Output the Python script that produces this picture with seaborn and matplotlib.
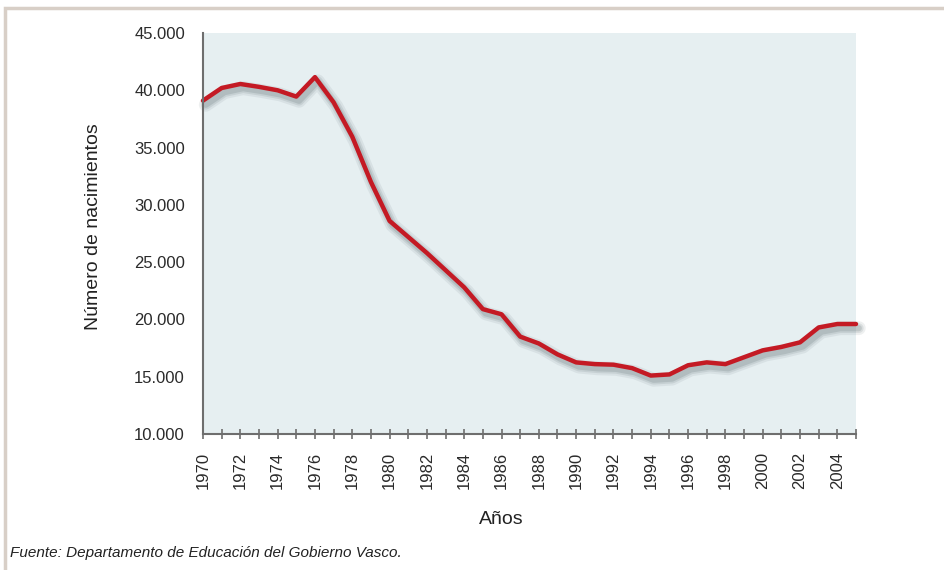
import matplotlib
matplotlib.use("Agg")
import matplotlib.pyplot as plt
import matplotlib.patheffects as pe
from matplotlib.patches import Rectangle
from matplotlib.ticker import FuncFormatter, MultipleLocator
import pandas as pd
import seaborn as sns

# datos
anios = [1970, 1971, 1972, 1973, 1974, 1975, 1976, 1977, 1978, 1979,
         1980, 1981, 1982, 1983, 1984, 1985, 1986, 1987, 1988, 1989,
         1990, 1991, 1992, 1993, 1994, 1995, 1996, 1997, 1998, 1999,
         2000, 2001, 2002, 2003, 2004, 2005]
nacimientos = [39100, 40200, 40550, 40300, 40000, 39450, 41150, 38950, 35950, 32000,
               28600, 27200, 25800, 24300, 22800, 20900, 20450, 18500, 17900, 16950,
               16250, 16100, 16050, 15750, 15100, 15200, 16000, 16250, 16100, 16700,
               17300, 17600, 18000, 19300, 19600, 19600]
etiquetas_x = [str(a) for a in anios if a % 2 == 0 and a <= 2004]

df = pd.DataFrame({'anio': anios, 'nacimientos': nacimientos})

sns.set_theme(style='white')
plt.rcParams['font.family'] = ['Liberation Sans', 'DejaVu Sans']

fig = plt.figure(figsize=(9.44, 5.70), dpi=100)
ax = fig.add_axes([203/944, 1 - 434/570, (856 - 203)/944, (434 - 33)/570])
ax.set_facecolor('#e6eff1')

sombra = [
    pe.SimpleLineShadow(offset=(2, -3), shadow_color='#5d6f72', alpha=0.10, linewidth=10),
    pe.SimpleLineShadow(offset=(2, -3), shadow_color='#5d6f72', alpha=0.14, linewidth=7),
    pe.SimpleLineShadow(offset=(2, -3), shadow_color='#5d6f72', alpha=0.20, linewidth=4.5),
    pe.Normal(),
]
sns.lineplot(data=df, x='anio', y='nacimientos', ax=ax, color='#c41a24',
             linewidth=3.2, clip_on=False, path_effects=sombra)

ax.set_xlim(1970, 2005)
ax.set_ylim(10000, 45000)

ax.xaxis.set_minor_locator(MultipleLocator(1))
ax.set_xticks([int(e) for e in etiquetas_x])
ax.set_xticklabels(etiquetas_x, rotation=90)
ax.yaxis.set_major_locator(MultipleLocator(5000))
ax.yaxis.set_major_formatter(FuncFormatter(lambda v, p: f"{int(v):,}".replace(',', '.')))

for s in ['top', 'right']:
    ax.spines[s].set_visible(False)
for s in ['left', 'bottom']:
    ax.spines[s].set_color('#6e6e6e')
    ax.spines[s].set_linewidth(1.5)

ax.tick_params(axis='y', which='major', direction='inout', length=8, width=2,
               color='#6e6e6e', labelsize=12, labelcolor='#2a2a2a', pad=9)
ax.tick_params(axis='x', which='both', direction='inout', length=7.2, width=1.2,
               color='#6e6e6e', labelsize=12, labelcolor='#2a2a2a', pad=9, bottom=True)

ax.set_xlabel('')
ax.set_ylabel('')
fig.text(93/944, 1 - 227/570, 'Número de nacimientos', rotation=90, ha='center', va='center',
         fontsize=14, color='#222222')
fig.text(501/944, 1 - 519/570, 'Años', ha='center', va='center', fontsize=14, color='#222222')

fig.text(10/944, 1 - 553/570, 'Fuente: Departamento de Educación del Gobierno Vasco.',
         ha='left', va='center', fontsize=11, style='italic', color='#222222')

# marco del recuadro
fig.patches.append(Rectangle((5/944, -0.5), 2.0, 1.5 - 8/570, transform=fig.transFigure,
                             fill=False, edgecolor='#d8cfc7', linewidth=2.5))

fig.savefig('out.png', dpi=100)
